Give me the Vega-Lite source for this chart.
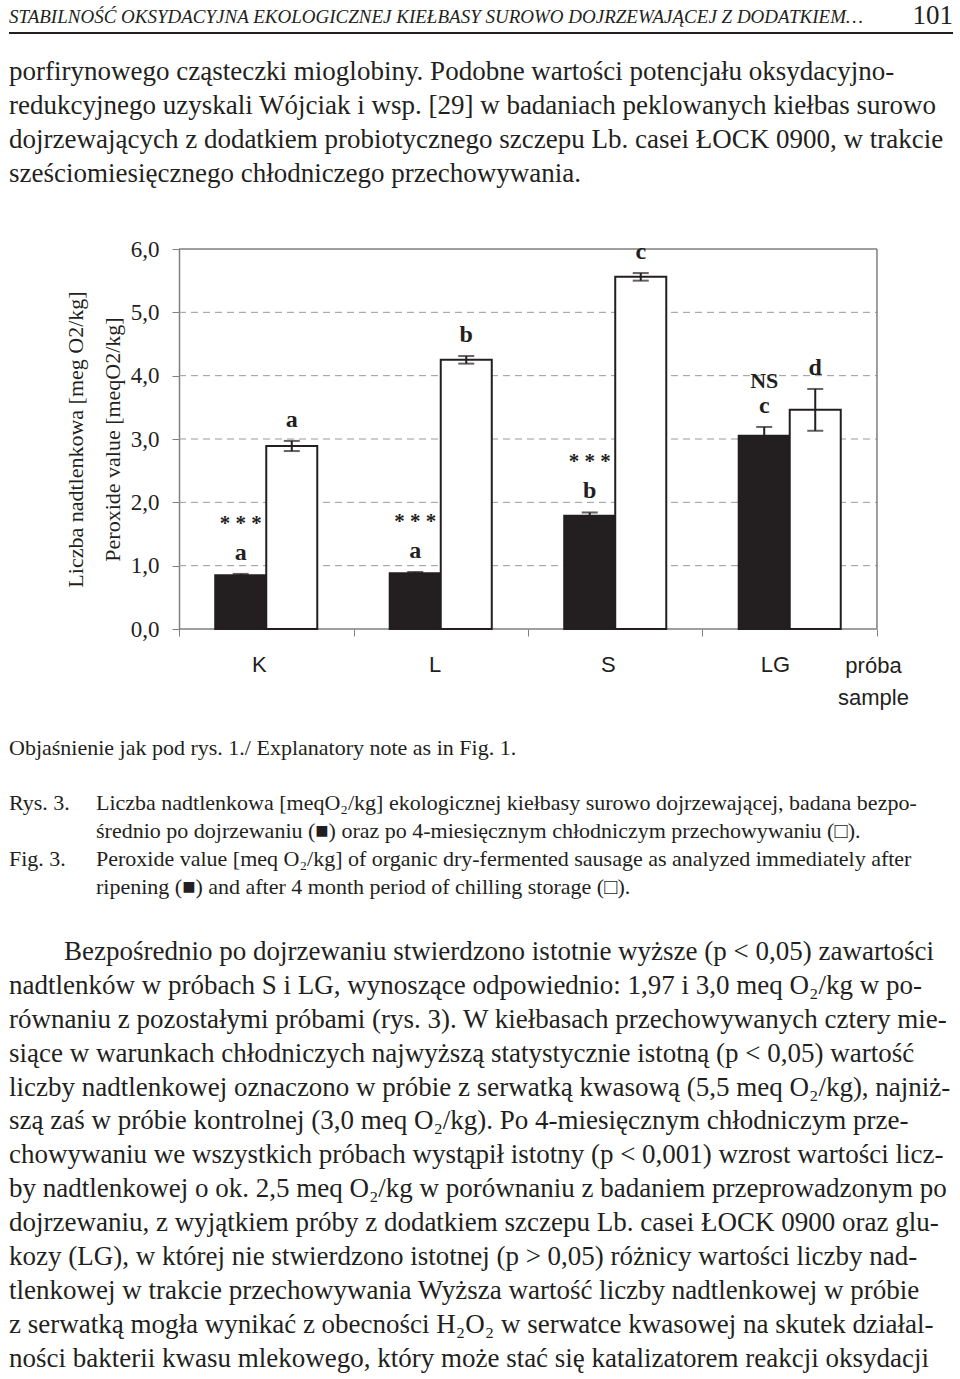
{
  "$schema": "https://vega.github.io/schema/vega-lite/v6.json",
  "background": "white",
  "padding": {"left": 8, "right": 8, "top": 0, "bottom": 0},
  "bounds": "flush",
  "spacing": 0,
  "config": {"view": {"stroke": null}, "font": "Liberation Serif"},
  "vconcat": [
    {
      "width": 944,
      "height": 33,
      "data": {"values": [{"title": "STABILNOŚĆ OKSYDACYJNA EKOLOGICZNEJ KIEŁBASY SUROWO DOJRZEWAJĄCEJ Z DODATKIEM…", "page": "101"}]},
      "layer": [
        {
          "mark": {"type": "text", "align": "left", "baseline": "middle", "font": "Liberation Serif", "fontStyle": "italic", "fontSize": 19, "color": "#231f20"},
          "encoding": {
            "x": {"datum": 0, "type": "quantitative", "scale": {"domain": [0, 1]}, "axis": null},
            "y": {"datum": 0.5, "type": "quantitative", "scale": {"domain": [0, 1]}, "axis": null},
            "text": {"field": "title"}
          }
        },
        {
          "mark": {"type": "text", "align": "right", "baseline": "middle", "font": "Liberation Serif", "fontSize": 27, "color": "#231f20", "dy": -1},
          "encoding": {
            "x": {"datum": 1, "type": "quantitative", "scale": {"domain": [0, 1]}, "axis": null},
            "y": {"datum": 0.5, "type": "quantitative", "scale": {"domain": [0, 1]}, "axis": null},
            "text": {"field": "page"}
          }
        },
        {
          "mark": {"type": "rule", "strokeWidth": 2, "color": "#231f20"},
          "encoding": {
            "x": {"datum": 0, "type": "quantitative", "scale": {"domain": [0, 1]}, "axis": null},
            "x2": {"datum": 1},
            "y": {"datum": 0, "type": "quantitative", "scale": {"domain": [0, 1]}, "axis": null}
          }
        }
      ]
    },
    {
      "width": 944,
      "height": 216,
      "data": {"values": [
        {"line": 1, "text": "porfirynowego cząsteczki mioglobiny. Podobne wartości potencjału oksydacyjno-"},
        {"line": 2, "text": "redukcyjnego uzyskali Wójciak i wsp. [29] w badaniach peklowanych kiełbas surowo"},
        {"line": 3, "text": "dojrzewających z dodatkiem probiotycznego szczepu Lb. casei ŁOCK 0900, w trakcie"},
        {"line": 4, "text": "sześciomiesięcznego chłodniczego przechowywania."}
      ]},
      "mark": {"type": "text", "align": "left", "baseline": "middle", "font": "Liberation Serif", "fontSize": 27, "color": "#231f20"},
      "encoding": {
        "x": {"datum": 0, "type": "quantitative", "scale": {"domain": [0, 1]}, "axis": null},
        "y": {"field": "line", "type": "ordinal", "scale": {"type": "band", "domain": [1, 2, 3, 4, 5], "paddingInner": 0, "paddingOuter": 0.676, "align": 0.478}, "axis": null},
        "text": {"field": "text"}
      }
    },
    {
      "width": 944,
      "height": 380,
      "view": {"stroke": null},
      "data": {"values": [
        {"sample": "K", "stage": "po dojrzewaniu", "value": 0.85, "lo": 0.83, "hi": 0.87, "letter": "a", "sig": "***"},
        {"sample": "K", "stage": "po przechowywaniu", "value": 2.89, "lo": 2.81, "hi": 2.97, "letter": "a", "sig": ""},
        {"sample": "L", "stage": "po dojrzewaniu", "value": 0.88, "lo": 0.86, "hi": 0.9, "letter": "a", "sig": "***"},
        {"sample": "L", "stage": "po przechowywaniu", "value": 4.25, "lo": 4.19, "hi": 4.31, "letter": "b", "sig": ""},
        {"sample": "S", "stage": "po dojrzewaniu", "value": 1.79, "lo": 1.74, "hi": 1.84, "letter": "b", "sig": "***"},
        {"sample": "S", "stage": "po przechowywaniu", "value": 5.56, "lo": 5.5, "hi": 5.62, "letter": "c", "sig": ""},
        {"sample": "LG", "stage": "po dojrzewaniu", "value": 3.05, "lo": 2.91, "hi": 3.19, "letter": "c", "sig": "NS"},
        {"sample": "LG", "stage": "po przechowywaniu", "value": 3.46, "lo": 3.13, "hi": 3.79, "letter": "d", "sig": ""}
      ]},
      "layer": [
        {
          "data": {"values": [{"g": 1}, {"g": 2}, {"g": 3}, {"g": 4}, {"g": 5}]},
          "mark": {"type": "rule", "strokeDash": [7, 5], "color": "#9a9a9a", "strokeWidth": 1},
          "encoding": {
            "x": {"datum": "K", "type": "nominal", "bandPosition": 0},
            "x2": {"datum": "LG", "bandPosition": 1},
            "y": {"field": "g", "type": "quantitative"}
          }
        },
        {
          "data": {"values": [{"g": 0}, {"g": 6}]},
          "mark": {"type": "rule", "color": "#7f7f7f", "strokeWidth": 1.5},
          "encoding": {
            "x": {"datum": "K", "type": "nominal", "bandPosition": 0},
            "x2": {"datum": "LG", "bandPosition": 1},
            "y": {"field": "g", "type": "quantitative"}
          }
        },
        {
          "data": {"values": [{"g": 0}]},
          "mark": {"type": "rule", "color": "#7f7f7f", "strokeWidth": 1.5},
          "encoding": {
            "x": {"datum": "LG", "type": "nominal", "bandPosition": 1},
            "y": {"datum": 0, "type": "quantitative"},
            "y2": {"datum": 6}
          }
        },
        {
          "mark": {"type": "bar", "stroke": "#231f20", "strokeWidth": 2},
          "encoding": {
            "x": {
              "field": "sample", "type": "nominal", "sort": ["K", "L", "S", "LG"],
              "scale": {"paddingInner": 0, "paddingOuter": 0.705, "align": 0.691},
              "axis": {
                "domain": false, "tickBand": "extent", "ticks": true, "tickSize": 7, "tickColor": "#7f7f7f",
                "labelAngle": 0, "labelFont": "Liberation Sans", "labelFontSize": 22, "labelColor": "#231f20", "labelPadding": 28,
                "title": ["próba", "sample"], "titleFont": "Liberation Sans", "titleFontSize": 22, "titleFontWeight": "normal",
                "titleX": 864, "titleY": 26, "titleAlign": "center", "titleBaseline": "top", "titleLineHeight": 32, "titleColor": "#231f20"
              }
            },
            "xOffset": {"field": "stage", "type": "nominal", "sort": ["po dojrzewaniu", "po przechowywaniu"], "scale": {"paddingInner": 0, "paddingOuter": 0.71}},
            "y": {
              "field": "value", "type": "quantitative", "scale": {"domain": [0, 6], "nice": false},
              "axis": {
                "values": [0, 1, 2, 3, 4, 5, 6], "offset": -170, "grid": false,
                "domainColor": "#7f7f7f", "domainWidth": 1.5, "tickColor": "#7f7f7f", "tickSize": 7,
                "labelExpr": "replace(format(datum.value, '.1f'), '.', ',')",
                "labelFont": "Liberation Serif", "labelFontSize": 23, "labelColor": "#231f20", "labelPadding": 13,
                "title": ["Liczba nadtlenkowa [meg O2/kg]", "Peroxide value [meqO2/kg]"],
                "titleFont": "Liberation Serif", "titleFontSize": 22, "titleFontWeight": "normal", "titleColor": "#231f20",
                "titlePadding": 6, "titleLineHeight": 37
              }
            },
            "fill": {"field": "stage", "type": "nominal", "scale": {"domain": ["po dojrzewaniu", "po przechowywaniu"], "range": ["#231f20", "#ffffff"]}, "legend": null}
          }
        },
        {
          "mark": {"type": "rule", "color": "#231f20", "strokeWidth": 2},
          "encoding": {
            "x": {"field": "sample", "type": "nominal", "sort": ["K", "L", "S", "LG"]},
            "xOffset": {"field": "stage", "type": "nominal", "sort": ["po dojrzewaniu", "po przechowywaniu"]},
            "y": {"field": "lo", "type": "quantitative"},
            "y2": {"field": "hi"}
          }
        },
        {
          "mark": {"type": "tick", "color": "#231f20", "size": 16, "thickness": 2, "orient": "horizontal"},
          "encoding": {
            "x": {"field": "sample", "type": "nominal", "sort": ["K", "L", "S", "LG"]},
            "xOffset": {"field": "stage", "type": "nominal", "sort": ["po dojrzewaniu", "po przechowywaniu"]},
            "y": {"field": "lo", "type": "quantitative"}
          }
        },
        {
          "mark": {"type": "tick", "color": "#231f20", "size": 16, "thickness": 2, "orient": "horizontal"},
          "encoding": {
            "x": {"field": "sample", "type": "nominal", "sort": ["K", "L", "S", "LG"]},
            "xOffset": {"field": "stage", "type": "nominal", "sort": ["po dojrzewaniu", "po przechowywaniu"]},
            "y": {"field": "hi", "type": "quantitative"}
          }
        },
        {
          "mark": {"type": "text", "font": "Liberation Serif", "fontWeight": "bold", "fontSize": 24, "baseline": "middle", "dy": -21, "color": "#231f20"},
          "encoding": {
            "x": {"field": "sample", "type": "nominal", "sort": ["K", "L", "S", "LG"]},
            "xOffset": {"field": "stage", "type": "nominal", "sort": ["po dojrzewaniu", "po przechowywaniu"]},
            "y": {"field": "hi", "type": "quantitative"},
            "text": {"field": "letter"}
          }
        },
        {
          "transform": [{"filter": "datum.sig == '***'"}],
          "mark": {"type": "text", "font": "Liberation Serif", "fontWeight": "bold", "fontSize": 21, "baseline": "middle", "dy": -50, "color": "#231f20"},
          "encoding": {
            "x": {"field": "sample", "type": "nominal", "sort": ["K", "L", "S", "LG"]},
            "xOffset": {"field": "stage", "type": "nominal", "sort": ["po dojrzewaniu", "po przechowywaniu"]},
            "y": {"field": "hi", "type": "quantitative"},
            "text": {"value": "* * *"}
          }
        },
        {
          "transform": [{"filter": "datum.sig == 'NS'"}],
          "mark": {"type": "text", "font": "Liberation Serif", "fontWeight": "bold", "fontSize": 22, "baseline": "middle", "dy": -46, "color": "#231f20"},
          "encoding": {
            "x": {"field": "sample", "type": "nominal", "sort": ["K", "L", "S", "LG"]},
            "xOffset": {"field": "stage", "type": "nominal", "sort": ["po dojrzewaniu", "po przechowywaniu"]},
            "y": {"field": "hi", "type": "quantitative"},
            "text": {"field": "sig"}
          }
        }
      ]
    },
    {
      "width": 944,
      "height": 286,
      "data": {"values": [
        {"line": 0, "label": "", "text": "Objaśnienie jak pod rys. 1./ Explanatory note as in Fig. 1."},
        {"line": 2, "label": "Rys. 3.", "text": "Liczba nadtlenkowa [meqO₂/kg] ekologicznej kiełbasy surowo dojrzewającej, badana bezpo-"},
        {"line": 3, "label": "", "text": "średnio po dojrzewaniu (■) oraz po 4-miesięcznym chłodniczym przechowywaniu (□)."},
        {"line": 4, "label": "Fig. 3.", "text": "Peroxide value [meq O₂/kg] of organic dry-fermented sausage as analyzed immediately after"},
        {"line": 5, "label": "", "text": "ripening (■) and after 4 month period of chilling storage (□)."}
      ]},
      "layer": [
        {
          "transform": [{"filter": "datum.line == 0"}],
          "mark": {"type": "text", "align": "left", "baseline": "middle", "font": "Liberation Serif", "fontSize": 22, "color": "#231f20"},
          "encoding": {
            "x": {"datum": 0, "type": "quantitative", "scale": {"domain": [0, 1]}, "axis": null},
            "y": {"field": "line", "type": "ordinal", "scale": {"type": "band", "domain": [-3, -2, -1, 0, 1, 2, 3, 4, 5], "paddingInner": 0, "paddingOuter": 0.662, "align": 0.601}, "axis": null},
            "text": {"field": "text"}
          }
        },
        {
          "transform": [{"filter": "datum.line > 0"}],
          "mark": {"type": "text", "align": "left", "baseline": "middle", "font": "Liberation Serif", "fontSize": 22, "color": "#231f20"},
          "encoding": {
            "x": {"datum": 0, "type": "quantitative", "scale": {"domain": [0, 1]}, "axis": null},
            "y": {"field": "line", "type": "ordinal", "scale": {"type": "band", "domain": [-3, -2, -1, 0, 1, 2, 3, 4, 5], "paddingInner": 0, "paddingOuter": 0.662, "align": 0.601}, "axis": null},
            "text": {"field": "label"}
          }
        },
        {
          "transform": [{"filter": "datum.line > 0"}],
          "mark": {"type": "text", "align": "left", "baseline": "middle", "font": "Liberation Serif", "fontSize": 22, "color": "#231f20", "dx": 87},
          "encoding": {
            "x": {"datum": 0, "type": "quantitative", "scale": {"domain": [0, 1]}, "axis": null},
            "y": {"field": "line", "type": "ordinal", "scale": {"type": "band", "domain": [-3, -2, -1, 0, 1, 2, 3, 4, 5], "paddingInner": 0, "paddingOuter": 0.662, "align": 0.601}, "axis": null},
            "text": {"field": "text"}
          }
        }
      ]
    },
    {
      "width": 944,
      "height": 464,
      "data": {"values": [
        {"line": 1, "text": "Bezpośrednio po dojrzewaniu stwierdzono istotnie wyższe (p < 0,05) zawartości"},
        {"line": 2, "text": "nadtlenków w próbach S i LG, wynoszące odpowiednio: 1,97 i 3,0 meq O₂/kg w po-"},
        {"line": 3, "text": "równaniu z pozostałymi próbami (rys. 3). W kiełbasach przechowywanych cztery mie-"},
        {"line": 4, "text": "siące w warunkach chłodniczych najwyższą statystycznie istotną (p < 0,05) wartość"},
        {"line": 5, "text": "liczby nadtlenkowej oznaczono w próbie z serwatką kwasową (5,5 meq O₂/kg), najniż-"},
        {"line": 6, "text": "szą zaś w próbie kontrolnej (3,0 meq O₂/kg). Po 4-miesięcznym chłodniczym prze-"},
        {"line": 7, "text": "chowywaniu we wszystkich próbach wystąpił istotny (p < 0,001) wzrost wartości licz-"},
        {"line": 8, "text": "by nadtlenkowej o ok. 2,5 meq O₂/kg w porównaniu z badaniem przeprowadzonym po"},
        {"line": 9, "text": "dojrzewaniu, z wyjątkiem próby z dodatkiem szczepu Lb. casei ŁOCK 0900 oraz glu-"},
        {"line": 10, "text": "kozy (LG), w której nie stwierdzono istotnej (p > 0,05) różnicy wartości liczby nad-"},
        {"line": 11, "text": "tlenkowej w trakcie przechowywania Wyższa wartość liczby nadtlenkowej w próbie"},
        {"line": 12, "text": "z serwatką mogła wynikać z obecności H₂O₂ w serwatce kwasowej na skutek działal-"},
        {"line": 13, "text": "ności bakterii kwasu mlekowego, który może stać się katalizatorem reakcji oksydacji"}
      ]},
      "layer": [
        {
          "transform": [{"filter": "datum.line == 1"}],
          "mark": {"type": "text", "align": "left", "baseline": "middle", "font": "Liberation Serif", "fontSize": 27, "color": "#231f20", "dx": 55},
          "encoding": {
            "x": {"datum": 0, "type": "quantitative", "scale": {"domain": [0, 1]}, "axis": null},
            "y": {"field": "line", "type": "ordinal", "scale": {"type": "band", "domain": [1, 2, 3, 4, 5, 6, 7, 8, 9, 10, 11, 12, 13], "paddingInner": 0, "paddingOuter": 0.3437, "align": 0.86}, "axis": null},
            "text": {"field": "text"}
          }
        },
        {
          "transform": [{"filter": "datum.line > 1"}],
          "mark": {"type": "text", "align": "left", "baseline": "middle", "font": "Liberation Serif", "fontSize": 27, "color": "#231f20"},
          "encoding": {
            "x": {"datum": 0, "type": "quantitative", "scale": {"domain": [0, 1]}, "axis": null},
            "y": {"field": "line", "type": "ordinal", "scale": {"type": "band", "domain": [1, 2, 3, 4, 5, 6, 7, 8, 9, 10, 11, 12, 13], "paddingInner": 0, "paddingOuter": 0.3437, "align": 0.86}, "axis": null},
            "text": {"field": "text"}
          }
        }
      ]
    }
  ]
}
